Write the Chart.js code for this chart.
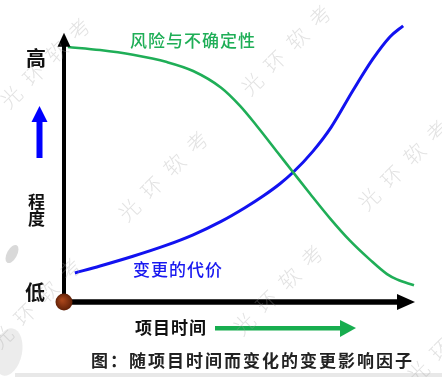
<!DOCTYPE html>
<html><head><meta charset="utf-8">
<script src="https://cdn.jsdelivr.net/npm/chart.js@4"></script>
<style>html,body{margin:0;padding:0;background:#fff;overflow:hidden}canvas{display:block}</style>
</head><body>
<canvas id="c" width="442" height="377"></canvas>
<script>
// ---- data (x = project time 0..100, y = degree 0..100) ----
const riskTime  = [1.1, 10.3, 19.7, 29.4, 36.9, 44.9, 50.3, 55.1, 61.1, 65.4, 70.3, 76.0, 81.7, 87.4, 92.3, 95.1, 100];
const riskLevel = [91.4, 90.3, 88.6, 86.0, 82.8, 76.8, 70.3, 63.1, 53.5, 46.6, 38.8, 30.0, 22.0, 15.2, 10.0, 8.1, 6.0];
const costTime  = [3.1, 10.3, 19.7, 28.9, 36.9, 44.9, 51.7, 56.9, 61.7, 65.4, 71.1, 76.3, 82.6, 88.3, 93.1, 96.9];
const costLevel = [10.4, 12.9, 16.4, 20.2, 24.1, 28.9, 33.8, 38.0, 42.4, 46.4, 54.0, 62.6, 75.9, 87.2, 95.0, 99.0];
const seriesNames = ['风险与不确定性', '变更的代价'];
const yTickLabels = ['低', '高'];
const yAxisTitle = '程度';
const xAxisTitle = '项目时间';
const captionText = '图：随项目时间而变化的变更影响因子';
const watermarkText = '光环软考';

const GREEN = '#1fae57', BLUE = '#1212f0';
const CJK = '"Noto Sans CJK SC", "Noto Sans", sans-serif';

function pts(xs, ys){ return xs.map((v,i)=>({x:v, y:ys[i]})); }

const deco = {
  id: 'deco',
  beforeDraw(chart){
    const ctx = chart.ctx;
    ctx.save(); ctx.fillStyle = '#fff'; ctx.fillRect(0,0,chart.width,chart.height);
    // faint bottom band
    ctx.fillStyle = '#e8e8e8'; ctx.fillRect(15, 373, 427, 4);
    // faint leaf decorations at the left
    ctx.fillStyle = 'rgba(170,170,170,0.45)';
    ctx.beginPath(); ctx.ellipse(12, 254, 5, 10, 0.5, 0, Math.PI*2); ctx.fill();
    ctx.fillStyle = 'rgba(200,200,200,0.35)';
    ctx.beginPath(); ctx.ellipse(8, 352, 14, 24, 0.2, 0, Math.PI*2); ctx.fill();
    ctx.restore();
  },
  afterDatasetsDraw(chart){
    const {ctx, scales:{x, y}} = chart;
    const x0 = x.getPixelForValue(0), y0 = y.getPixelForValue(0);
    const yTop = y.getPixelForValue(96.5), xEnd = x.getPixelForValue(100);
    ctx.save();
    ctx.fillStyle = '#000'; ctx.strokeStyle = '#000';
    // y axis
    ctx.lineWidth = 4; ctx.beginPath(); ctx.moveTo(x0, y0); ctx.lineTo(x0, yTop + 10); ctx.stroke();
    ctx.beginPath(); ctx.moveTo(x0, yTop); ctx.lineTo(x0 - 6.5, yTop + 14); ctx.lineTo(x0 + 6.5, yTop + 14); ctx.closePath(); ctx.fill();
    // x axis
    ctx.lineWidth = 5.5; ctx.beginPath(); ctx.moveTo(x0, y0); ctx.lineTo(xEnd - 12, y0); ctx.stroke();
    ctx.beginPath(); ctx.moveTo(xEnd + 1, y0); ctx.lineTo(xEnd - 17, y0 - 8); ctx.lineTo(xEnd - 17, y0 + 8); ctx.closePath(); ctx.fill();
    // origin dot
    const g = ctx.createRadialGradient(x0 - 2, y0 - 2, 1, x0, y0, 9);
    g.addColorStop(0, '#a8451a'); g.addColorStop(1, '#5c1e06');
    ctx.fillStyle = g; ctx.beginPath(); ctx.arc(x0, y0, 8.5, 0, Math.PI*2); ctx.fill();

    // blue up arrow
    ctx.fillStyle = '#0000ff';
    ctx.fillRect(36.5, 121, 6, 37);
    ctx.beginPath(); ctx.moveTo(39.5, 106); ctx.lineTo(31.5, 122); ctx.lineTo(47.5, 122); ctx.closePath(); ctx.fill();
    // green right arrow
    ctx.fillStyle = '#17ad4f';
    ctx.fillRect(215, 326, 127, 4.5);
    ctx.beginPath(); ctx.moveTo(356, 328); ctx.lineTo(340, 320); ctx.lineTo(340, 337); ctx.closePath(); ctx.fill();

    // texts
    ctx.textBaseline = 'middle'; ctx.textAlign = 'left';
    ctx.fillStyle = '#111';
    ctx.font = 'bold 20px ' + CJK;
    ctx.fillText(yTickLabels[1], 26, 58);
    ctx.fillText(yTickLabels[0], 25, 292);
    ctx.font = 'bold 17px ' + CJK;
    ctx.fillText(yAxisTitle[0], 28, 202);
    ctx.fillText(yAxisTitle[1], 28, 219);
    ctx.letterSpacing = '1px';
    ctx.fillText(xAxisTitle, 135, 328);
    ctx.fillStyle = '#222';
    ctx.font = 'bold 17px ' + CJK;
    ctx.letterSpacing = '2px';
    ctx.fillText(captionText, 91, 361);
    ctx.letterSpacing = '1px';
    ctx.font = '500 17px ' + CJK;
    ctx.fillStyle = GREEN;
    ctx.fillText(seriesNames[0], 130, 41);
    ctx.fillStyle = '#1818f0';
    ctx.fillText(seriesNames[1], 133, 270);
    ctx.restore();
  },
  afterDraw(chart){
    const ctx = chart.ctx;
    const spots = [[45,63],[163,176],[286,50],[403,165],[278,290],[36,303],[452,338]];
    ctx.save();
    ctx.fillStyle = 'rgba(160,160,160,0.3)';
    ctx.font = '300 21px ' + CJK;
    ctx.letterSpacing = '11px';
    ctx.textAlign = 'center'; ctx.textBaseline = 'middle';
    for (const [cx, cy] of spots){
      ctx.save(); ctx.translate(cx, cy); ctx.rotate(-Math.PI/4);
      ctx.fillText(watermarkText, 5.5, 0); ctx.restore();
    }
    ctx.restore();
  }
};

new Chart(document.getElementById('c'), {
  type: 'line',
  data: {
    datasets: [
      { label: seriesNames[0], data: pts(riskTime, riskLevel), borderColor: GREEN, borderWidth: 2.6,
        pointRadius: 0, cubicInterpolationMode: 'monotone', fill: false, clip: false },
      { label: seriesNames[1], data: pts(costTime, costLevel), borderColor: BLUE, borderWidth: 3,
        pointRadius: 0, cubicInterpolationMode: 'monotone', fill: false, clip: false }
    ]
  },
  options: {
    responsive: false, animation: false, devicePixelRatio: 1,
    layout: { padding: { left: 64, right: 28, top: 23, bottom: 75 } },
    plugins: { legend: { display: false }, tooltip: { enabled: false } },
    scales: {
      x: { type: 'linear', min: 0, max: 100, display: false },
      y: { type: 'linear', min: 0, max: 100, display: false }
    }
  },
  plugins: [deco]
});
</script>
</body></html>
